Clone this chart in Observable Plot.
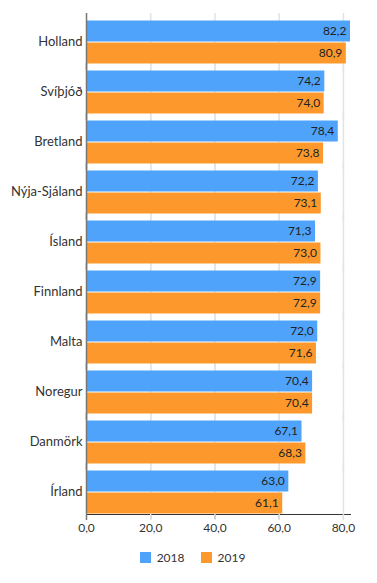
<!DOCTYPE html>
<html><head><meta charset="utf-8">
<script src="https://cdn.jsdelivr.net/npm/d3@7"></script>
<script src="https://cdn.jsdelivr.net/npm/@observablehq/plot@0.6"></script>
<style>
body{margin:0;background:#fff;font-family:Lato,sans-serif;}
#chart svg{display:block;}
[aria-label^="fy-axis"]{font-size:13px;}
.legend{display:flex;justify-content:center;gap:16px;font-size:12px;color:#333;margin-top:2px;padding-left:8px}
.legend span.sw{display:inline-block;width:11px;height:11px;margin-right:6px;vertical-align:-1px}
</style></head>
<body><div id="chart"></div>
<div class="legend"><div><span class="sw" style="background:#4fa3fb"></span>2018</div><div><span class="sw" style="background:#fd992c"></span>2019</div></div>
<script>
const countries = ["Holland","Svíþjóð","Bretland","Nýja-Sjáland","Ísland","Finnland","Malta","Noregur","Danmörk","Írland"];
const years = ["2018","2019"];
const values2018 = [82.2,74.2,78.4,72.2,71.3,72.9,72.0,70.4,67.1,63.0];
const values2019 = [80.9,74.0,73.8,73.1,73.0,72.9,71.6,70.4,68.3,61.1];
const xTicks = [0,20,40,60,80];
const colors = ["#4fa3fb","#fd992c"];

const data = [];
countries.forEach((c,i)=>{
  data.push({country:c, year:"2018", value:values2018[i]});
  data.push({country:c, year:"2019", value:values2019[i]});
});
const fmt = v => v.toFixed(1).replace(".", ",");

const chart = Plot.plot({
  width: 377, height: 548,
  marginLeft: 86, marginRight: 27, marginTop: 16, marginBottom: 31,
  style: {fontFamily: "Lato, sans-serif", fontSize: "12px", color: "#333"},
  facet: {data, y: "country"},
  fy: {domain: countries, padding: 0.11, label: null, axis: "left", tickSize: 0, tickPadding: 4},
  y: {domain: years, axis: null, padding: 0},
  x: {domain: [0, 82.2], ticks: xTicks, tickFormat: fmt, label: null, line: true, tickSize: 5, tickPadding: 4},
  color: {domain: years, range: colors},
  marks: [
    Plot.ruleX(xTicks.slice(1), {stroke: "#e3e3e3", strokeWidth: 1.5, insetTop: -6, insetBottom: -6}),
    Plot.barX(data, {x: "value", y: "year", fill: "year", insetTop: 0.5, insetBottom: 0.5}),
    Plot.text(data, {x: "value", y: "year", text: d => fmt(d.value), textAnchor: "end", dx: -4, fill: "#222", fontSize: 12}),
    Plot.ruleX([0], {stroke: "#777", strokeWidth: 1.5, insetTop: -6, insetBottom: -6})
  ]
});
document.getElementById("chart").appendChild(chart);
</script></body></html>
